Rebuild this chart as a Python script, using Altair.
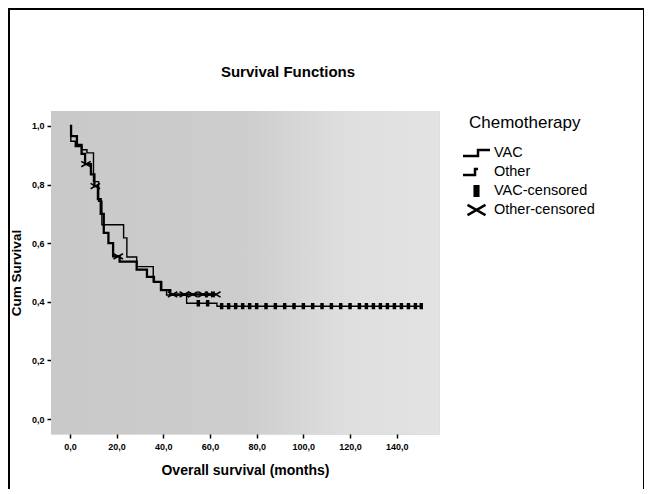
import altair as alt
import pandas as pd

# ---- data (Kaplan-Meier step curves) ----
vac_time = [0, 0.4, 2.3, 5.1, 7.3, 10.1, 12.3, 13.7, 23.0, 24.4, 28.6, 35.7, 39.3, 41.4, 50.0, 63.0, 150.5]
vac_surv = [1.0, 0.948, 0.93, 0.919, 0.908, 0.81, 0.743, 0.663, 0.618, 0.553, 0.52, 0.469, 0.44, 0.423, 0.395, 0.385, 0.385]

other_time = [0, 0.5, 3.0, 5.0, 6.5, 9.0, 10.5, 12.0, 13.2, 14.5, 16.5, 18.5, 21.3, 28.6, 33.0, 36.0, 39.0, 43.0, 62.5]
other_surv = [1.0, 0.965, 0.935, 0.905, 0.87, 0.835, 0.795, 0.75, 0.70, 0.635, 0.60, 0.555, 0.537, 0.51, 0.485, 0.468, 0.44, 0.425, 0.425]

vac_cens_time = [55, 59, 65, 68, 71, 74, 77, 80, 84, 88, 92, 96, 100, 104, 108, 112, 116, 120,
                 124, 127, 130, 133, 136, 139, 142, 145, 148, 150.5]
vac_cens_surv = [0.395, 0.395] + [0.385] * 26

other_cens_time = [6.9, 10.9, 20.7, 44, 49, 52.7, 57, 60, 62.5]
other_cens_surv = [0.87, 0.795, 0.555, 0.425, 0.425, 0.425, 0.425, 0.425, 0.425]

x_ticks = [0, 20, 40, 60, 80, 100, 120, 140]
y_ticks = [0.0, 0.2, 0.4, 0.6, 0.8, 1.0]
legend_labels = ["VAC", "Other", "VAC-censored", "Other-censored"]
legend_paths = [
    "M-2.25,0.5H0.25V-0.5H2.25",
    "M-2.25,0.5H-0.25V-0.5H0.25",
    "M-0.3,-1V1M0,-1V1M0.3,-1V1",
    "M-1.5,-0.85L1.5,0.85M-1.5,0.85L1.5,-0.85",
]
chart_title = "Survival Functions"

W, H = 388, 323
FONT = "Liberation Sans"

curves = pd.DataFrame({
    "time": vac_time + other_time,
    "surv": vac_surv + other_surv,
    "group": ["VAC"] * len(vac_time) + ["Other"] * len(other_time),
})
cens = pd.DataFrame({
    "time": vac_cens_time + other_cens_time,
    "surv": vac_cens_surv + other_cens_surv,
    "type": ["VAC-censored"] * len(vac_cens_time) + ["Other-censored"] * len(other_cens_time),
})

label_expr = "replace(format(datum.value, '.1f'), '.', ',')"
x_scale = alt.Scale(domain=[-8.1, 158.1], nice=False, zero=False)
y_scale = alt.Scale(domain=[-0.051, 1.051], nice=False, zero=False)

x_axis = alt.Axis(values=x_ticks, labelExpr=label_expr, title="Overall survival (months)",
                  grid=False, domain=False, tickColor="black", tickSize=4, tickWidth=1.5,
                  labelFont=FONT, labelFontSize=9, labelFontWeight="bold", labelColor="black",
                  labelPadding=4, titleFont=FONT, titleFontSize=14, titleFontWeight="bold",
                  titleColor="black", titleY=40, titleBaseline="alphabetic")
y_axis = alt.Axis(values=y_ticks, labelExpr=label_expr, title="Cum Survival",
                  grid=False, domain=False, tickColor="black", tickSize=4, tickWidth=1.5,
                  labelFont=FONT, labelFontSize=9, labelFontWeight="bold", labelColor="black",
                  labelPadding=3, titleFont=FONT, titleFontSize=13.5, titleFontWeight="bold",
                  titleColor="black", titleX=-35, titleY=H / 2, titleAngle=-90,
                  titleAlign="center", titleBaseline="middle")

one = pd.DataFrame({"a": [0]})

bg = alt.Chart(one).mark_rect(
    color=alt.LinearGradient(
        gradient="linear", x1=0, x2=1, y1=0, y2=0,
        stops=[alt.GradientStop(color="#c9c9c9", offset=0),
               alt.GradientStop(color="#cdcdcd", offset=0.5),
               alt.GradientStop(color="#dedede", offset=0.75),
               alt.GradientStop(color="#e3e3e3", offset=1)])
).encode(x=alt.value(0), x2=alt.value(W), y=alt.value(0), y2=alt.value(H))

lines = alt.Chart(curves).mark_line(interpolate="step-after", color="black").encode(
    x=alt.X("time:Q", scale=x_scale, axis=x_axis),
    y=alt.Y("surv:Q", scale=y_scale, axis=y_axis),
    detail="group:N",
    strokeWidth=alt.StrokeWidth("group:N", scale=alt.Scale(domain=["VAC", "Other"], range=[1.4, 2.3]), legend=None),
)

points = alt.Chart(cens).mark_point(color="black", filled=False, size=40, strokeWidth=1.6, opacity=1).encode(
    x=alt.X("time:Q", scale=x_scale),
    y=alt.Y("surv:Q", scale=y_scale),
    shape=alt.Shape("type:N", scale=alt.Scale(domain=legend_labels, range=legend_paths),
                    legend=alt.Legend(title="Chemotherapy", orient="none", legendX=418, legendY=4,
                                      padding=0, titleFont=FONT, titleFontSize=17,
                                      titleFontWeight="normal", titleColor="black",
                                      titleBaseline="top", titlePadding=13.5,
                                      labelFont=FONT, labelFontSize=14.5, labelColor="black",
                                      labelOffset=10, rowPadding=-8.2, gridAlign="all",
                                      symbolSize=144, symbolStrokeWidth=2.5, symbolOpacity=1,
                                      symbolStrokeColor="black", symbolOffset=0)),
)

title_text = alt.Chart(one).mark_text(
    text=chart_title, font=FONT, fontSize=15, fontWeight="bold", color="black",
    align="center", baseline="alphabetic"
).encode(x=alt.value(237), y=alt.value(-34))

frame = alt.Chart(one).mark_rect(fillOpacity=0, stroke="black", strokeWidth=2).encode(
    x=alt.value(-42), x2=alt.value(593), y=alt.value(-102), y2=alt.value(420))

chart = alt.layer(bg, lines, points, title_text, frame).properties(
    width=W, height=H,
    padding={"left": 43, "top": 103, "right": 205, "bottom": 55},
    autosize=alt.AutoSizeParams(type="none"),
).configure_view(stroke="black", strokeWidth=2).configure(background="white")

chart.save("out.html", embed_options={"renderer": "svg", "actions": False})
